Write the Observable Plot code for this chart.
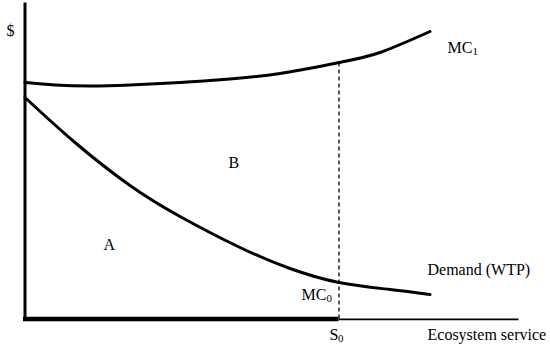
<!DOCTYPE html>
<html>
<head>
<meta charset="utf-8">
<script src="https://cdn.jsdelivr.net/npm/d3@7"></script>
<script src="https://cdn.jsdelivr.net/npm/@observablehq/plot@0.6"></script>
<style>
  html, body { margin: 0; padding: 0; background: #fff; }
  #chart svg { display: block; }
</style>
</head>
<body>
<div id="chart"></div>
<script>
// Quantity of ecosystem service (x) and $ (y), in chart units
const mc1Q = [0, 30, 65, 105, 155, 205, 255, 314, 355, 405];
const mc1P = [236.5, 234, 233, 234, 236.5, 240, 245.5, 256.5, 266.5, 287.5];

const demandQ = [0, 50, 105, 155, 215, 265, 314, 365, 405];
const demandP = [221.5, 176.5, 133.5, 102.5, 71.5, 50.5, 36.5, 29.5, 24.5];

const s0 = 314;           // quantity S0
const mc1AtS0 = 256.5;    // MC1 at S0
const axisTopP = 316;     // top of $ axis
const axisEndQ = 494;     // end of quantity axis

// Labels
const labelText = ["$", "MC", "B", "A", "Demand (WTP)", "MC", "S", "Ecosystem service"];
const labelQ    = [-18.5, 422.5, 203.5, 78.5, 402.5, 276.5, 304.5, 402.5];
const labelP    = [283.5, 266.5, 151.5, 69.5, 44.5, 19.5, -20.5, -20.5];

const subText = ["1", "0", "0"];
const subQ    = [447.5, 301.5, 313];
const subP    = [264.5, 17.5, -22.5];

const mc1 = mc1Q.map((q, i) => ({q, p: mc1P[i]}));
const demand = demandQ.map((q, i) => ({q, p: demandP[i]}));
const labels = labelText.map((t, i) => ({t, q: labelQ[i], p: labelP[i]}));
const subs = subText.map((t, i) => ({t, q: subQ[i], p: subP[i]}));

const chart = Plot.plot({
  width: 550,
  height: 354,
  marginLeft: 24.5,
  marginRight: 0,
  marginTop: 0,
  marginBottom: 35.5,
  style: {fontFamily: "'Liberation Serif', 'Times New Roman', serif", background: "#fff"},
  x: {domain: [0, 525.5], axis: null},
  y: {domain: [0, 318.5], axis: null},
  marks: [
    // $ axis
    Plot.ruleX([0], {y1: -2, y2: axisTopP, stroke: "#000", strokeWidth: 3}),
    // MC0 (zero) up to S0 thick, rest of axis thin
    Plot.ruleY([0], {x1: -1.5, x2: s0, stroke: "#000", strokeWidth: 4.5}),
    Plot.ruleY([0], {x1: s0, x2: axisEndQ, stroke: "#000", strokeWidth: 1.8, dy: 0.3}),
    // S0 dashed
    Plot.ruleX([s0], {y1: 0, y2: mc1AtS0, stroke: "#000", strokeWidth: 1.3, strokeDasharray: "4,3"}),
    // curves
    Plot.line(mc1, {x: "q", y: "p", curve: "natural", stroke: "#000", strokeWidth: 3}),
    Plot.line(demand, {x: "q", y: "p", curve: "natural", stroke: "#000", strokeWidth: 3}),
    // labels
    Plot.text(labels, {x: "q", y: "p", text: "t", textAnchor: "start", lineAnchor: "bottom", fontSize: 16, fill: "#000"}),
    Plot.text(subs, {x: "q", y: "p", text: "t", textAnchor: "start", lineAnchor: "bottom", fontSize: 11, fill: "#000"})
  ]
});
document.getElementById("chart").appendChild(chart);
</script>
</body>
</html>
